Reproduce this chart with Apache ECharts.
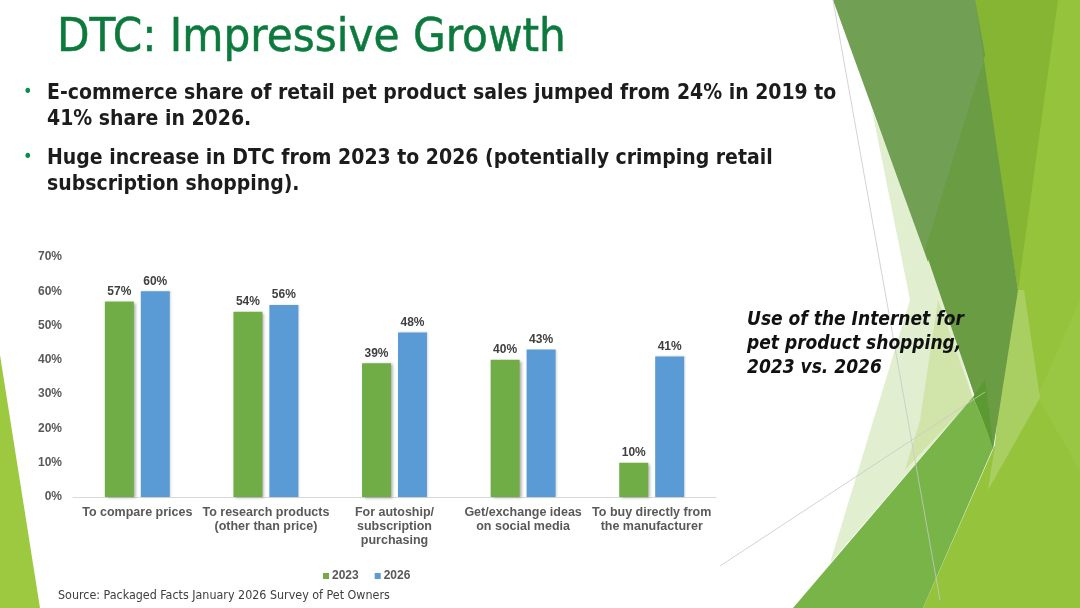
<!DOCTYPE html>
<html>
<head>
<meta charset="utf-8">
<script src="https://cdn.jsdelivr.net/npm/echarts@6/dist/echarts.min.js"></script>
<style>
html,body{margin:0;padding:0;background:#fff;}
#c{width:1080px;height:608px;}
</style>
</head>
<body>
<div id="c"></div>
<script>
const categories = [
  'To compare prices',
  'To research products\n(other than price)',
  'For autoship/\nsubscription\npurchasing',
  'Get/exchange ideas\non social media',
  'To buy directly from\nthe manufacturer'
];
const values2023 = [57, 54, 39, 40, 10];
const values2026 = [60, 56, 48, 43, 41];
const seriesNames = ['2023', '2026'];
const axisMax = 70;
const axisInterval = 10;

const titleText = 'DTC: Impressive Growth';
const bullets = [
  ['E-commerce share of retail pet product sales jumped from 24% in 2019 to', '41% share in 2026.'],
  ['Huge increase in DTC from 2023 to 2026 (potentially crimping retail', 'subscription shopping).']
];
const sideNote = ['Use of the Internet for', 'pet product shopping,', '2023 vs. 2026'];
const sourceText = 'Source: Packaged Facts January 2026 Survey of Pet Owners';

const FACE = "'DejaVu Sans Condensed', 'DejaVu Sans', sans-serif";
const ARIAL = "'Liberation Sans', Arial, sans-serif";

function poly(points, fill, z) {
  return { type: 'polygon', shape: { points: points }, style: { fill: fill }, z: z || 0, silent: true };
}
function line(p1, p2, z) {
  return { type: 'line', shape: { x1: p1[0], y1: p1[1], x2: p2[0], y2: p2[1] },
    style: { stroke: '#c8c8c8', lineWidth: 0.8 }, z: z || 1, silent: true };
}

const decor = [
  // left wedge
  poly([[0,355],[40,608],[0,608]], '#9dc941'),
  // lime base
  poly([[973,0],[1080,0],[1080,608],[923,608],[995,445],[1018,290]], '#95c33c'),
  // lighter lime band
  poly([[1037,397],[1080,300],[1080,470]], '#99c743'),
  // darker lime top triangle
  poly([[973,0],[1058,0],[1018,290]], '#86b534'),
  // pale wedge
  poly([[872,110],[910,300],[830,563],[973,397],[945,300]], '#e2eed0'),
  poly([[938,300],[973,398],[905,470],[920,420]], '#d1e5ab'),
  // light green quad
  poly([[1008,290],[1024,290],[1040,398],[988,490],[995,445]], '#a9cf62'),
  // muted green
  poly([[833,0],[975,0],[985,55],[928,262]], '#71a055'),
  poly([[985,55],[975,0],[1018,290],[993,450],[925,250]], '#6a9c44'),
  // medium green
  poly([[973,397],[793,608],[923,608],[993,448],[987,430]], '#79b449'),
  // dark tip
  poly([[973,397],[987,430],[993,448],[990,420],[985,380]], '#5a9a30'),
  // thin lines
  line([833,0],[940,600]),
  line([720,566],[985,392])
];

const texts = [];
texts.push({ type: 'text', x: 57, y: 39, z: 10, style: { text: titleText, fontFamily: FACE, fontSize: 47, fill: '#0d7a3d', stroke: '#0d7a3d', lineWidth: 0.5, textVerticalAlign: 'middle' } });
const bulletY = [[94, 120], [159, 185]];
bullets.forEach((b, i) => {
  texts.push({ type: 'text', x: 23, y: bulletY[i][0] - 2, z: 10, style: { text: '•', fontFamily: FACE, fontSize: 18, fill: '#0e8a4a', textVerticalAlign: 'middle' } });
  b.forEach((ln, j) => {
    texts.push({ type: 'text', x: 47, y: bulletY[i][j], z: 10, style: { text: ln, fontFamily: FACE, fontSize: 21, fontWeight: 'bold', fill: '#1c1c1c', textVerticalAlign: 'middle' } });
  });
});
sideNote.forEach((ln, j) => {
  texts.push({ type: 'text', x: 747, y: 320 + j * 24, z: 10, style: { text: ln, fontFamily: FACE, fontSize: 19, fontStyle: 'italic', fontWeight: 'bold', fill: '#111', textVerticalAlign: 'middle' } });
});
texts.push({ type: 'text', x: 58, y: 596, z: 10, style: { text: sourceText, fontFamily: FACE, fontSize: 12.4, fill: '#404040', textVerticalAlign: 'middle' } });

const chart = echarts.init(document.getElementById('c'), null, { renderer: 'canvas' });
const barCommon = {
  type: 'bar',
  barWidth: 29,
  barGap: '24%',
  label: {
    show: true, position: 'top', distance: 4,
    formatter: p => p.value + '%',
    fontFamily: ARIAL, fontWeight: 'bold', fontSize: 12, color: '#404040'
  }
};
chart.setOption({
  animation: false,
  backgroundColor: '#fff',
  graphic: { elements: decor.concat(texts) },
  legend: {
    data: seriesNames,
    left: 318, top: 565,
    icon: 'rect', itemWidth: 6, itemHeight: 6, itemGap: 16,
    textStyle: { fontFamily: ARIAL, fontWeight: 'bold', fontSize: 12, color: '#595959', padding: [0,0,0,-2] }
  },
  grid: { left: 73, right: 364, top: 257, bottom: 111, containLabel: false },
  xAxis: {
    type: 'category',
    data: categories,
    axisLine: { show: true, lineStyle: { color: '#d9d9d9', width: 1 } },
    axisTick: { show: false },
    axisLabel: { interval: 0, margin: 9, lineHeight: 14, fontFamily: ARIAL, fontWeight: 'bold', fontSize: 12.5, color: '#595959' }
  },
  yAxis: {
    type: 'value',
    min: 0, max: axisMax, interval: axisInterval,
    axisLine: { show: false }, axisTick: { show: false },
    splitLine: { show: false },
    axisLabel: { formatter: '{value}%', margin: 11, fontFamily: ARIAL, fontWeight: 'bold', fontSize: 12, color: '#595959' }
  },
  series: [
    Object.assign({}, barCommon, { name: seriesNames[0], data: values2023,
      itemStyle: { color: '#70ad47', shadowColor: 'rgba(0,0,0,0.35)', shadowBlur: 3, shadowOffsetX: 2, shadowOffsetY: 1 } }),
    Object.assign({}, barCommon, { name: seriesNames[1], data: values2026,
      itemStyle: { color: '#5b9bd5', shadowColor: 'rgba(0,0,0,0.15)', shadowBlur: 2, shadowOffsetX: 1, shadowOffsetY: 0 } })
  ]
});
</script>
</body>
</html>
